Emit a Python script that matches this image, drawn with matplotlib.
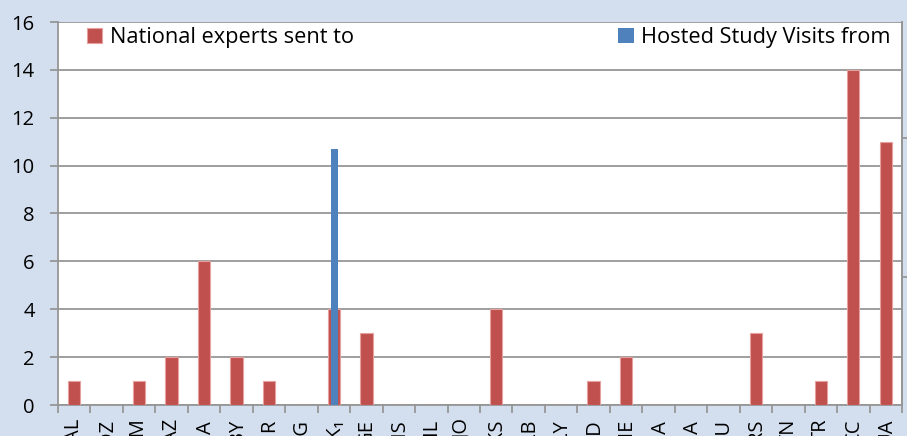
import matplotlib
matplotlib.use("Agg")
import matplotlib.pyplot as plt
import numpy as np

categories = ["AL", "DZ", "AM", "AZ", "BA", "BY", "HR", "EG", "MK\u2081", "GE", "IS", "IL", "JO",
              "KS", "LB", "LY", "MD", "ME", "MA", "PA", "RU", "RS", "TN", "TR", "CC", "UA"]
experts_sent = [1, 0, 1, 2, 6, 2, 1, 0, 4, 3, 0, 0, 0, 4, 0, 0, 1, 2, 0, 0, 0, 3, 0, 1, 14, 11]
study_visits = [0, 0, 0, 0, 0, 0, 0, 0, 10.7, 0, 0, 0, 0, 0, 0, 0, 0, 0, 0, 0, 0, 0, 0, 0, 0, 0]
y_ticks = [0, 2, 4, 6, 8, 10, 12, 14, 16]

plt.rcParams['font.family'] = ['Open Sans', 'DejaVu Sans']

bg = "#D3DFEE"
red = "#C0504D"
blue = "#4F81BD"
grid = "#969696"

fig = plt.figure(figsize=(9.07, 4.36), dpi=100, facecolor=bg)
ax = fig.add_axes([58/907, 1 - 405/436, (902-58)/907, (405-22)/436])
ax.set_facecolor("white")

x = np.arange(len(categories))
ax.bar(x, experts_sent, width=0.38, color=red, edgecolor="#E8A09E", linewidth=0.8, zorder=3,
       label="National experts sent to")
ax.bar(x + 0.02, study_visits, width=0.19, color=blue, linewidth=0, zorder=4,
       label="Hosted Study Visits from")

ax.set_xlim(-0.5, len(categories) - 0.5)
ax.set_ylim(0, 16)
ax.set_yticks(y_ticks)
ax.yaxis.grid(True, color=grid, linewidth=1.3, zorder=0)
ax.set_axisbelow(True)
ax.tick_params(axis='y', length=5.8, width=1.3, color=grid, labelsize=14.5, pad=11, labelcolor="black")

ax.set_xticks(x)
ax.set_xticklabels(categories, rotation=90, fontsize=14.5, va='top', ha='center')
ax.set_xticks(np.arange(-0.5, len(categories), 1), minor=True)
ax.tick_params(axis='x', which='major', length=0, pad=10)
ax.tick_params(axis='x', which='minor', length=6, width=1.3, color=grid)

ax.spines["top"].set_visible(False)
for s in ["left", "bottom", "right"]:
    ax.spines[s].set_color(grid)
    ax.spines[s].set_linewidth(1.3)

ax2 = ax.twinx()
ax2.set_ylim(0, 16)
ax2.set_yticks([5.35, 11.15])
ax2.set_yticklabels([])
ax2.tick_params(axis='y', length=6, width=1.3, color=grid)
for s in ["top", "left", "bottom"]:
    ax2.spines[s].set_visible(False)
ax2.spines["right"].set_color(grid)
ax2.spines["right"].set_linewidth(1.3)

h, l = ax.get_legend_handles_labels()
leg1 = ax2.legend([h[0]], [l[0]], loc="upper left", bbox_to_anchor=(0.024, 1.01), frameon=False,
                  fontsize=15.7, handlelength=0.7, handleheight=0.7, handletextpad=0.35, borderaxespad=0)
ax2.add_artist(leg1)
leg2 = ax2.legend([h[1]], [l[1]], loc="upper right", bbox_to_anchor=(0.997, 1.01), frameon=False,
                  fontsize=15.7, handlelength=0.7, handleheight=0.7, handletextpad=0.35, borderaxespad=0)

fig.savefig("out.png", dpi=100, facecolor=bg)
